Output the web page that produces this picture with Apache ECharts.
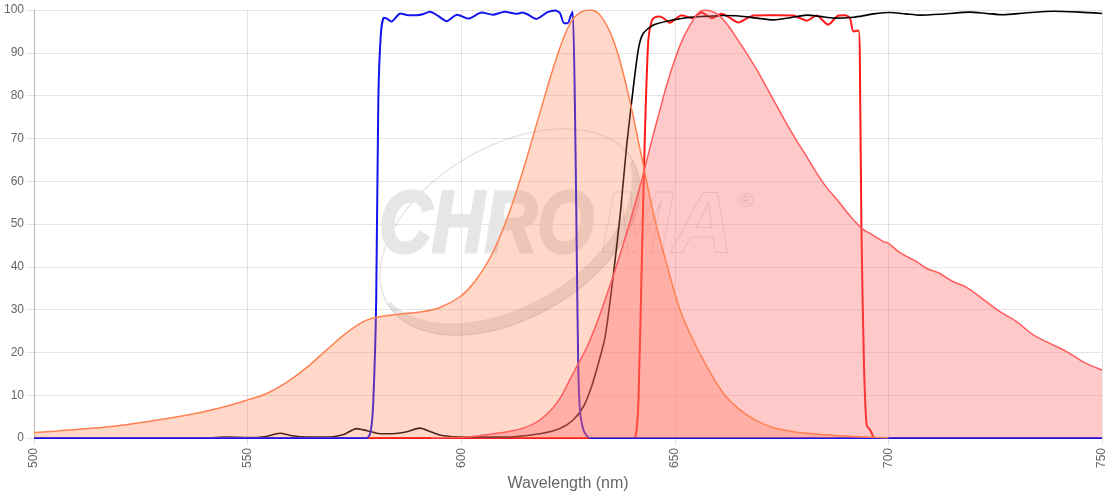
<!DOCTYPE html>
<html>
<head>
<meta charset="utf-8">
<script src="https://cdn.jsdelivr.net/npm/echarts@6/dist/echarts.min.js"></script>
<style>
  html, body { margin: 0; padding: 0; background: #fff; }
  #chart { width: 1120px; height: 500px; }
</style>
</head>
<body>
<div id="chart"></div>
<script>
// spectra: [wavelength nm, %]
var excitation = [[500,1.3],[505,1.6],[510,2.0],[515,2.4],[520,2.9],[525,3.6],[530,4.4],[535,5.2],[540,6.2],[545,7.4],[550,8.9],[554.5,10.4],[560,13.6],[564.6,17.1],[568.5,20.6],[574,25.2],[578,27.6],[582,28.5],[586,29.0],[590,29.4],[595,30.5],[599.7,33.0],[602.8,36.1],[606.7,42.0],[610.6,50.9],[614.5,62.6],[618.4,75.9],[622.4,89.1],[625.5,96.9],[627.8,99.4],[630,100],[632.5,98.8],[635.6,93],[638.7,82.1],[641.9,67.3],[645,52.5],[648,41],[651.2,30],[653.6,24.3],[657.5,16.7],[661.4,10.4],[665.3,6.5],[669.2,4.0],[673.1,2.4],[677,1.6],[680.9,1.1],[688.7,0.5],[696.5,0.2],[700,0]];

var emission = [[593,0],[597,0.1],[602,0.3],[606.7,0.9],[610.5,1.4],[614.5,2.3],[618.4,4.2],[622.4,8.2],[626.3,15.3],[630,22.5],[634.1,33.5],[638,45.5],[641.9,59],[645.8,74],[649.7,87.5],[653.6,96.5],[657,100],[660.6,98.5],[665.3,92.2],[669.2,86],[673.1,79],[677,72],[680.9,65.7],[684.8,59.5],[688.7,54.8],[691,51.9],[694,48.8],[695.7,47.8],[698.8,45.9],[700,45.5],[702.7,43.3],[706.6,41.2],[709,39.6],[711.7,38.6],[715.2,36.5],[718.3,35.2],[722.2,32.4],[726.1,29.5],[730,27.2],[733.9,24.1],[737.8,22.1],[741.7,20.2],[745.6,17.8],[750,15.9]];

var exciterFilter = [[500,0],[577.9,0],[578.8,1.5],[579.4,8],[580.1,32],[580.6,79],[581.2,94.5],[581.9,98.2],[582.6,98.0],[583.7,97.3],[585,98.6],[585.7,99.2],[587.6,98.8],[589.6,98.8],[591,99.0],[592.7,99.6],[594.6,98.6],[596.6,97.4],[599,98.9],[601.7,98.0],[604.8,99.4],[607.4,98.9],[610.2,99.6],[612.9,99.1],[614.3,99.4],[615.5,99.0],[617.6,97.9],[620.2,99.5],[622,99.9],[623.1,99.3],[624.1,96.9],[624.9,96.9],[625.7,98.8],[626.1,99.6],[626.6,79],[627.0,47.8],[627.4,16.6],[627.8,6.5],[628.6,1.9],[629.7,0.2],[630.5,0],[750,0]];

var dichroic = [[500,0],[540,0],[545,0.2],[550,0.1],[554,0.3],[557.6,1.1],[560,0.6],[562.3,0.3],[566,0.2],[570,0.3],[572.5,0.8],[575.5,2.2],[578,1.7],[581,1.0],[584,1.0],[587,1.4],[590.4,2.3],[593,1.4],[595.5,0.6],[600.5,0.2],[610,0.2],[618.4,1.0],[623.1,2.2],[626.2,4.2],[628.6,7.3],[630.5,12],[632.1,17.4],[633.7,23.7],[635.6,38],[637.2,52],[638.7,68],[640.3,82],[641.5,91],[642.6,94.5],[645,96.5],[649.7,97.7],[653.6,98.3],[657,98.5],[661.4,98.7],[665,98.6],[669.2,98.1],[673.1,97.7],[677,98.2],[680.9,98.8],[684,98.5],[687.2,98.1],[691.8,98.3],[694.9,98.8],[696.5,99.1],[700.4,99.4],[704,99.1],[707.4,98.8],[712,99.0],[719.1,99.5],[723,99.2],[726.9,98.9],[732,99.3],[738.6,99.7],[744.8,99.5],[750,99.2]];

var emitterFilter = [[500,0],[640.3,0],[641.0,1.5],[641.5,8.9],[642.25,40],[643.0,71],[643.8,93],[644.6,97.5],[645.3,98.3],[646.5,98.5],[647.5,98.0],[648.9,97.0],[650.3,98.0],[651.6,98.8],[654.0,98.1],[656.3,99.4],[658.6,98.1],[661.0,99.1],[662.8,98.2],[664.9,97.1],[666.8,98.0],[668.4,98.7],[671.5,98.8],[674.6,98.8],[677.7,98.7],[679.5,98.0],[680.9,97.5],[683.2,98.7],[685.9,96.6],[688.3,98.7],[689.8,98.8],[691.0,98.1],[691.8,95.0],[693.0,95.2],[693.4,79],[693.7,47.8],[694.3,16.6],[694.9,3.0],[695.7,1.9],[696.9,0],[750,0]];

var chart = echarts.init(document.getElementById('chart'));

var gridColor = 'rgba(0,0,0,0.1)';
var labelFont = 'Arial, "Liberation Sans", sans-serif';
var wmFont = 'italic bold 87px "Liberation Sans", Arial, sans-serif';
var wmGray = '#e6e6e6';

// crescent of the logo swoosh (outer half ellipse, inner shifted one back)
function crescent(rx, ry, shift) {
    var pts = [], i, t;
    for (i = 0; i <= 60; i++) {
        t = Math.PI * i / 60;
        pts.push([-rx * Math.cos(t), ry * Math.sin(t)]);
    }
    for (i = 0; i <= 60; i++) {
        t = Math.PI * i / 60;
        pts.push([(rx - 2) * Math.cos(t), -shift + ry * Math.sin(t)]);
    }
    return pts.filter(function (p) { return p[1] >= -0.5; });
}

function filterLine(name, data, color, width) {
    return {
        name: name,
        type: 'line',
        data: data,
        z: 2,
        showSymbol: false,
        smooth: 0.25,
        lineStyle: { color: color, width: width },
        itemStyle: { color: color }
    };
}

var option = {
    animation: false,
    grid: { left: 34, right: 18, top: 10, bottom: 62 },
    xAxis: {
        type: 'value',
        min: 500, max: 750, interval: 50,
        name: 'Wavelength (nm)',
        nameLocation: 'middle',
        nameGap: 38,
        nameTextStyle: { color: '#666', fontSize: 16, fontFamily: labelFont },
        axisLine: { show: false },
        axisTick: { show: true, length: 7, lineStyle: { color: gridColor } },
        axisLabel: { rotate: 90, color: '#666', fontSize: 12, margin: 10, fontFamily: labelFont },
        splitLine: { show: true, lineStyle: { color: gridColor } }
    },
    yAxis: {
        type: 'value',
        min: 0, max: 100, interval: 10,
        axisLine: { show: true, lineStyle: { color: 'rgba(0,0,0,0.18)' } },
        axisTick: { show: true, length: 8, lineStyle: { color: gridColor } },
        axisLabel: { color: '#666', fontSize: 12, margin: 10, fontFamily: labelFont },
        splitLine: { show: true, lineStyle: { color: gridColor } }
    },
    graphic: [
        // CHROMA watermark
        { type: 'text', x: 379, y: 228, scaleX: 0.84, z: 1, silent: true,
          style: { text: 'CHRO', font: wmFont, fill: wmGray, stroke: wmGray, lineWidth: 3, verticalAlign: 'middle' } },
        { type: 'text', x: 601, y: 228, scaleX: 0.98, z: 1, silent: true,
          style: { text: 'MA', font: wmFont, fill: 'none', stroke: 'rgba(0,0,0,0.12)', lineWidth: 1, verticalAlign: 'middle' } },
        { type: 'text', x: 746, y: 201, z: 1, silent: true,
          style: { text: '\u00AE', font: '20px "Liberation Sans", Arial', fill: 'rgba(0,0,0,0.12)', align: 'center', verticalAlign: 'middle' } },
        {
            type: 'group', x: 510, y: 232, rotation: 0.53, z: 1, silent: true,
            children: [
                { type: 'ellipse', shape: { cx: 0, cy: 0, rx: 142, ry: 86 },
                  style: { fill: 'none', stroke: 'rgba(0,0,0,0.1)', lineWidth: 1.5 } },
                { type: 'polygon', shape: { points: crescent(142, 86, 13) },
                  style: { fill: 'rgba(0,0,0,0.1)' } }
            ]
        }
    ],
    series: [
        filterLine('Emitter', emitterFilter, '#ff1a1a', 2),
        filterLine('Dichroic', dichroic, '#000000', 1.6),
        filterLine('Exciter', exciterFilter, '#1414f0', 2),
        {
            name: 'Excitation',
            type: 'line',
            data: excitation,
            z: 3,
            showSymbol: false,
            smooth: 0.4,
            lineStyle: { color: '#ff8050', width: 1.5 },
            itemStyle: { color: '#ff8050' },
            areaStyle: { color: 'rgba(255,127,80,0.3)', opacity: 1 }
        },
        {
            name: 'Emission',
            type: 'line',
            data: emission,
            z: 3,
            showSymbol: false,
            smooth: 0.4,
            lineStyle: { color: '#ff5c5c', width: 1.5 },
            itemStyle: { color: '#ff5c5c' },
            areaStyle: { color: 'rgba(255,99,99,0.35)', opacity: 1 }
        }
    ]
};

chart.setOption(option);
</script>
</body>
</html>
